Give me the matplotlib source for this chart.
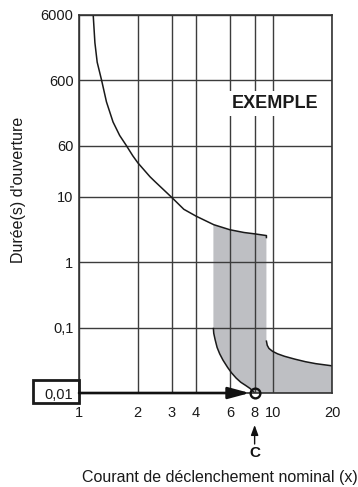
import matplotlib
matplotlib.use('Agg')
from matplotlib import pyplot as plt
from matplotlib.patches import Rectangle
from matplotlib.ticker import FixedLocator, NullLocator

plt.rcParams['font.family'] = ['Liberation Sans', 'DejaVu Sans']

# tick positions / labels
x_ticks = [1, 2, 3, 4, 6, 8, 10, 20]
x_labels = ['1', '2', '3', '4', '6', '8', '10', '20']
y_ticks = [0.01, 0.1, 1, 10, 60, 600, 6000]
y_labels = ['0,01', '0,1', '1', '10', '60', '600', '6000']

# main tripping curve
curve_x = [1.183, 1.207, 1.24, 1.306, 1.384, 1.496, 1.618, 1.751, 1.892, 2.007,
           2.318, 2.466, 3.0, 3.46, 4.0, 4.93, 5.97, 7.06, 8.0, 9.2, 9.2]
curve_y = [6000, 2265, 1140, 607, 282, 139, 86.5, 60.7, 42.1, 33.0,
           20.2, 16.9, 9.75, 6.43, 5.05, 3.74, 3.13, 2.84, 2.71, 2.55, 2.38]

# lower left edge of the tolerance band
left_x = [4.91, 4.93, 5.01, 5.13, 5.29, 5.5, 5.81, 6.08, 6.43, 6.79, 7.18, 7.59, 8.0]
left_y = [0.0967, 0.0818, 0.0655, 0.0497, 0.0397, 0.0318, 0.0246, 0.0204, 0.0169,
          0.0146, 0.0131, 0.0117, 0.01]

# lower right edge of the tolerance band
right_x = [9.2, 9.29, 9.48, 9.89, 10.5, 11.4, 12.9, 14.6, 16.5, 19.5, 20]
right_y = [0.062, 0.0536, 0.048, 0.0434, 0.0397, 0.0364, 0.0329, 0.0301, 0.0281,
           0.0263, 0.026]

# example point
point_x = 8
point_y = 0.01

fig = plt.figure(figsize=(3.58, 4.87), dpi=100)
ax = fig.add_axes([0.2207, 0.193, 0.7067, 0.7762])
ax.set_xscale('log')
ax.set_yscale('log')
ax.set_xlim(1, 20)
ax.set_ylim(0.01, 6000)

# shaded band
top = [(x, y) for x, y in zip(curve_x[:-1], curve_y[:-1]) if x >= 4.93]
top = [(4.91, curve_y[15])] + top
poly = top + list(zip(right_x, right_y)) + [(20, 0.01)] + list(zip(left_x, left_y))[::-1]
ax.fill([p[0] for p in poly], [p[1] for p in poly], color='#bebfc3', lw=0, zorder=1)

ax.plot(curve_x, curve_y, color='#1a1a1a', lw=1.1, zorder=2)
ax.plot(left_x, left_y, color='#1a1a1a', lw=1.1, zorder=2)
ax.plot(right_x, right_y, color='#1a1a1a', lw=1.1, zorder=2)

ax.xaxis.set_major_locator(FixedLocator(x_ticks))
ax.xaxis.set_minor_locator(NullLocator())
ax.set_xticklabels(x_labels)
ax.yaxis.set_major_locator(FixedLocator(y_ticks))
ax.yaxis.set_minor_locator(NullLocator())
ax.set_yticklabels(y_labels)
ax.tick_params(axis='x', length=0, pad=9, labelsize=10.5, colors='#1a1a1a')
ax.tick_params(axis='y', length=0, pad=4, labelsize=10.5, colors='#1a1a1a')
ax.grid(True, color='#3c3c3c', lw=1.0)
for s in ax.spines.values():
    s.set_color('#333333')
    s.set_linewidth(1.2)

# EXEMPLE label
ax.text(0.775, 0.765, 'EXEMPLE', transform=ax.transAxes, ha='center', va='center',
        fontsize=13, fontweight='bold', color='#1a1a1a', zorder=4,
        bbox=dict(facecolor='white', edgecolor='none', pad=3))

# box around the 0,01 label
ax.add_patch(Rectangle((-0.182, -0.026), 0.182, 0.061, transform=ax.transAxes,
                       fill=False, edgecolor='#1a1a1a', lw=2, clip_on=False, zorder=5))

# thick arrow along 0.01 to the example point
ax.annotate('', xy=(7.55, point_y), xytext=(1, point_y),
            arrowprops=dict(arrowstyle='-|>,head_length=13,head_width=3.5', mutation_scale=1,
                            color='#111111', lw=1.9, shrinkA=0, shrinkB=0),
            annotation_clip=False, zorder=6)
ax.plot([point_x], [point_y], marker='o', ms=7, mfc='none', mec='#111111', mew=1.7,
        clip_on=False, zorder=7)

# C marker below the axis
ax.annotate('', xy=(point_x, 62), xytext=(point_x, 43), xycoords=('data', 'figure pixels'),
            textcoords=('data', 'figure pixels'),
            arrowprops=dict(arrowstyle='-|>,head_length=6,head_width=2.2', mutation_scale=1,
                            color='#111111', lw=1, shrinkA=0, shrinkB=0),
            annotation_clip=False)
ax.annotate('C', xy=(point_x, 34), xycoords=('data', 'figure pixels'), ha='center', va='center',
            fontsize=11, fontweight='bold', color='#111111', annotation_clip=False)

fig.text(0.053, 0.61, "Durée(s) d'ouverture", rotation=90, ha='center', va='center',
         fontsize=11.5, color='#1a1a1a')
fig.text(0.615, 0.0205, 'Courant de déclenchement nominal (x)', ha='center', va='center',
         fontsize=11.5, color='#1a1a1a')

fig.savefig('out.png', dpi=100, facecolor='white')
